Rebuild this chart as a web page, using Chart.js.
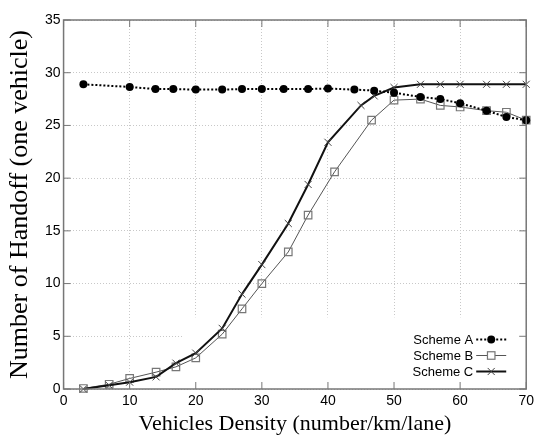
<!DOCTYPE html>
<html>
<head>
<meta charset="utf-8">
<script src="https://cdn.jsdelivr.net/npm/chart.js@4/dist/chart.umd.min.js"></script>
<style>
  body { margin: 0; background: #fff; }
  canvas { display: block; }
</style>
</head>
<body>
<canvas id="myChart" width="539" height="438"></canvas>
<script>
// values
var schemeAX = [3, 10, 13.9, 16.6, 20, 24, 27, 30, 33.3, 37, 40, 44, 47, 50, 54, 57, 60, 64, 67, 70];
var schemeAY = [28.9, 28.65, 28.45, 28.45, 28.4, 28.4, 28.45, 28.45, 28.45, 28.45, 28.5, 28.4, 28.3, 28.1, 27.7, 27.5, 27.1, 26.4, 25.8, 25.5];

var schemeBX = [3, 6.9, 10, 14, 17, 20, 24, 27, 30, 34, 37, 41, 46.6, 50, 54, 57, 60, 64, 67, 70];
var schemeBY = [0.05, 0.45, 1.0, 1.6, 2.1, 2.95, 5.2, 7.6, 10.0, 13.0, 16.5, 20.6, 25.5, 27.4, 27.5, 26.9, 26.75, 26.4, 26.25, 25.5];

var schemeCX = [3, 6.9, 10, 14, 17, 20, 24, 27, 30, 34, 37, 40, 45, 47, 50, 54, 57, 60, 64, 67, 70];
var schemeCY = [0, 0.35, 0.65, 1.15, 2.45, 3.4, 5.75, 9.0, 11.8, 15.7, 19.4, 23.4, 26.9, 27.8, 28.6, 28.9, 28.9, 28.9, 28.9, 28.9, 28.9];

var seriesNames = ["Scheme A", "Scheme B", "Scheme C"];
var xTitle = "Vehicles Density (number/km/lane)";
var yTitle = "Number of Handoff (one vehicle)";

function toPoints(xs, ys) {
  return xs.map(function (x, i) { return { x: x, y: ys[i] }; });
}

var sansFont = "'Liberation Sans', Arial, sans-serif";
var serifFont = "'Liberation Serif', 'Times New Roman', serif";

// gnuplot-like key: text on the left, sample on the right, white box behind
var keyPlugin = {
  id: "keyPlugin",
  beforeDatasetsDraw: function (chart) {
    var ctx = chart.ctx, a = chart.chartArea;
    var xs = chart.scales.x, ys = chart.scales.y;
    ctx.save();
    ctx.fillStyle = "#fff";
    var left = xs.getPixelForValue(18.1);
    var top = ys.getPixelForValue(6.8);
    ctx.fillRect(left, top, a.right - left, a.bottom - top);
    ctx.restore();
  },
  afterDatasetsDraw: function (chart) {
    var ctx = chart.ctx, a = chart.chartArea;
    ctx.save();
    ctx.font = "13px " + sansFont;
    ctx.fillStyle = "#000";
    ctx.textAlign = "right";
    ctx.textBaseline = "middle";
    chart.data.datasets.forEach(function (ds, i) {
      var y = a.bottom - 49.5 + i * 16;
      var x0 = a.right - 50, x1 = a.right - 20, xm = (x0 + x1) / 2;
      ctx.fillText(ds.label, a.right - 53, y + 1);
      ctx.beginPath();
      ctx.strokeStyle = ds.borderColor;
      ctx.lineWidth = ds.borderWidth;
      ctx.setLineDash(ds.borderDash || []);
      ctx.moveTo(x0, y);
      ctx.lineTo(x1, y);
      ctx.stroke();
      ctx.setLineDash([]);
      var r = ds.pointRadius;
      ctx.lineWidth = ds.pointBorderWidth;
      ctx.strokeStyle = ds.pointBorderColor;
      ctx.fillStyle = ds.pointBackgroundColor;
      if (ds.pointStyle === "circle") {
        ctx.beginPath();
        ctx.arc(xm, y, r, 0, Math.PI * 2);
        ctx.fill();
      } else if (ds.pointStyle === "rect") {
        var s = r * Math.SQRT1_2;
        ctx.fillStyle = "#fff";
        ctx.fillRect(xm - s, y - s, 2 * s, 2 * s);
        ctx.strokeRect(xm - s, y - s, 2 * s, 2 * s);
      } else {
        var c = r * Math.SQRT1_2;
        ctx.beginPath();
        ctx.moveTo(xm - c, y - c); ctx.lineTo(xm + c, y + c);
        ctx.moveTo(xm - c, y + c); ctx.lineTo(xm + c, y - c);
        ctx.stroke();
      }
      ctx.fillStyle = "#000";
    });
    ctx.restore();
  },
  afterDraw: function (chart) {
    // frame and inward tick marks
    var ctx = chart.ctx, a = chart.chartArea;
    var xs = chart.scales.x, ys = chart.scales.y;
    ctx.save();
    ctx.strokeStyle = "#777";
    ctx.lineWidth = 1.5;
    ctx.strokeRect(a.left, a.top, a.right - a.left, a.bottom - a.top);
    ctx.lineWidth = 1;
    ctx.beginPath();
    xs.ticks.forEach(function (t) {
      var px = xs.getPixelForValue(t.value);
      ctx.moveTo(px, a.bottom); ctx.lineTo(px, a.bottom - 7);
      ctx.moveTo(px, a.top); ctx.lineTo(px, a.top + 7);
    });
    ys.ticks.forEach(function (t) {
      var py = ys.getPixelForValue(t.value);
      ctx.moveTo(a.left, py); ctx.lineTo(a.left + 7, py);
      ctx.moveTo(a.right, py); ctx.lineTo(a.right - 7, py);
    });
    ctx.stroke();
    ctx.restore();
  }
};

var ctx = document.getElementById("myChart").getContext("2d");
var myChart = new Chart(ctx, {
  type: "line",
  data: {
    datasets: [
      {
        label: seriesNames[0],
        data: toPoints(schemeAX, schemeAY),
        borderColor: "#000",
        borderWidth: 2,
        borderDash: [2, 2],
        pointStyle: "circle",
        pointRadius: 4,
        pointBorderWidth: 0,
        pointBorderColor: "#000",
        pointBackgroundColor: "#000",
        fill: false,
        tension: 0,
        order: 1
      },
      {
        label: seriesNames[1],
        data: toPoints(schemeBX, schemeBY),
        borderColor: "#555",
        borderWidth: 1,
        pointStyle: "rect",
        pointRadius: 5.3,
        pointBorderWidth: 1.2,
        pointBorderColor: "#777",
        pointBackgroundColor: "rgba(255,255,255,0)",
        fill: false,
        tension: 0,
        order: 3
      },
      {
        label: seriesNames[2],
        data: toPoints(schemeCX, schemeCY),
        borderColor: "#111",
        borderWidth: 2,
        pointStyle: "crossRot",
        pointRadius: 5,
        pointBorderWidth: 1,
        pointBorderColor: "#444",
        pointBackgroundColor: "#444",
        fill: false,
        tension: 0,
        order: 2
      }
    ]
  },
  options: {
    responsive: false,
    devicePixelRatio: 1,
    animation: false,
    clip: false,
    layout: { padding: { top: 20, right: 11, bottom: 0, left: 0 } },
    plugins: {
      legend: { display: false },
      tooltip: { enabled: false }
    },
    scales: {
      x: {
        type: "linear",
        min: 0,
        max: 70,
        ticks: {
          stepSize: 10,
          padding: 5,
          color: "#000",
          font: { family: sansFont, size: 14, lineHeight: 1 }
        },
        grid: { color: "#c8c8c8", lineWidth: 1, drawTicks: false, borderDash: [1, 2] },
        border: { display: false, dash: [1, 2] },
        title: {
          display: true,
          text: xTitle,
          color: "#000",
          font: { family: serifFont, size: 22, lineHeight: 1 },
          padding: { top: 0, bottom: 3 }
        }
      },
      y: {
        min: 0,
        max: 35,
        ticks: {
          stepSize: 5,
          padding: 3,
          color: "#000",
          font: { family: sansFont, size: 14 }
        },
        grid: { color: "#c8c8c8", lineWidth: 1, drawTicks: false, borderDash: [1, 2] },
        border: { display: false, dash: [1, 2] },
        title: {
          display: true,
          text: yTitle,
          color: "#000",
          font: { family: serifFont, size: 26, lineHeight: 1 },
          padding: { top: 7, bottom: 9 }
        }
      }
    }
  },
  plugins: [keyPlugin]
});
</script>
</body>
</html>
